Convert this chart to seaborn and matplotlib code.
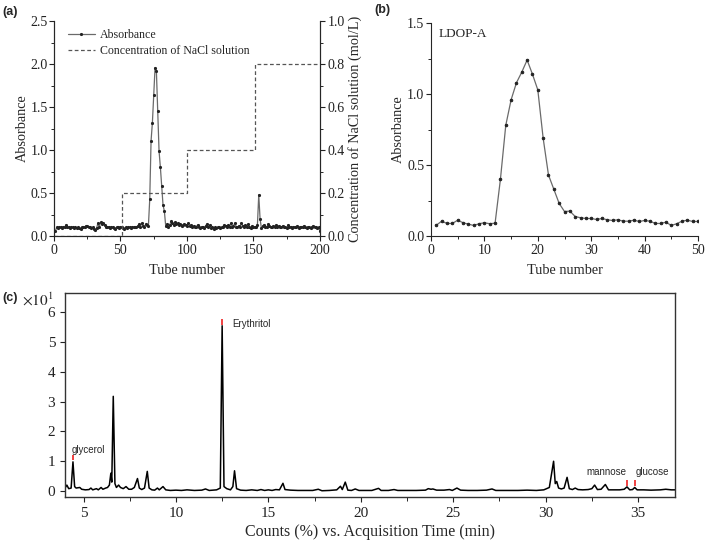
import matplotlib
matplotlib.use("Agg")
import matplotlib.pyplot as plt
from matplotlib.ticker import MultipleLocator
import numpy as np
import pandas as pd
import seaborn as sns

# ---------------- (a) DEAE column, absorbance per tube ----------------
tube_a = list(range(1, 201))
abs_a = [
    0.06, 0.10, 0.09, 0.11, 0.10, 0.09, 0.11, 0.10, 0.13, 0.11,
    0.10, 0.09, 0.10, 0.10, 0.09, 0.10, 0.09, 0.10, 0.09, 0.08,
    0.10, 0.11, 0.10, 0.12, 0.12, 0.11, 0.10, 0.09, 0.10, 0.08,
    0.07, 0.09, 0.15, 0.10, 0.16, 0.14, 0.15, 0.13, 0.10, 0.10,
    0.11, 0.09, 0.10, 0.10, 0.09, 0.08, 0.10, 0.11, 0.09, 0.10,
    0.10, 0.09, 0.08, 0.10, 0.09, 0.10, 0.10, 0.09, 0.11, 0.10,
    0.11, 0.10, 0.12, 0.14, 0.11, 0.15, 0.12, 0.10, 0.14, 0.13,
    0.12, 0.43, 1.11, 1.32, 1.64, 1.96, 1.92, 1.46, 0.99, 0.80,
    0.58, 0.36, 0.29, 0.12, 0.14, 0.11, 0.13, 0.17, 0.15, 0.13,
    0.16, 0.14, 0.15, 0.13, 0.14, 0.12, 0.13, 0.14, 0.13, 0.12,
    0.15, 0.12, 0.13, 0.11, 0.12, 0.10, 0.11, 0.13, 0.10, 0.09,
    0.11, 0.10, 0.09, 0.12, 0.14, 0.10, 0.13, 0.09, 0.10, 0.08,
    0.10, 0.09, 0.10, 0.10, 0.09, 0.10, 0.11, 0.13, 0.12, 0.10,
    0.13, 0.10, 0.15, 0.11, 0.12, 0.15, 0.11, 0.10, 0.12, 0.10,
    0.15, 0.12, 0.11, 0.13, 0.10, 0.14, 0.11, 0.09, 0.12, 0.10,
    0.11, 0.10, 0.13, 0.48, 0.20, 0.09, 0.12, 0.13, 0.11, 0.10,
    0.14, 0.12, 0.11, 0.10, 0.12, 0.11, 0.13, 0.10, 0.12, 0.11,
    0.10, 0.12, 0.11, 0.10, 0.09, 0.13, 0.10, 0.11, 0.09, 0.10,
    0.11, 0.10, 0.12, 0.09, 0.11, 0.10, 0.11, 0.12, 0.10, 0.09,
    0.11, 0.10, 0.09, 0.11, 0.12, 0.10, 0.11, 0.09, 0.10, 0.06,
]
nacl_tube = [0, 51, 100, 151, 200]
nacl_conc = [0.0, 0.2, 0.4, 0.8, 0.8]

# ---------------- (b) LDOP-A on gel column ----------------
tube_b = list(range(1, 51))
abs_b = [
    0.077, 0.105, 0.089, 0.089, 0.112, 0.094, 0.084, 0.075, 0.087, 0.094,
    0.087, 0.091, 0.40, 0.78, 0.96, 1.08, 1.155, 1.24, 1.14, 1.03,
    0.69, 0.43, 0.33, 0.23, 0.173, 0.176, 0.138, 0.129, 0.124, 0.124,
    0.117, 0.124, 0.115, 0.110, 0.115, 0.105, 0.105, 0.112, 0.103, 0.110,
    0.105, 0.089, 0.089, 0.098, 0.075, 0.087, 0.105, 0.112, 0.103, 0.103,
]

# ---------------- (c) GC-MS chromatogram (x10 counts %) ----------------
c_time = [
    4.0, 4.1, 4.2, 4.33, 4.43, 4.52, 4.6, 4.8, 4.9, 5.1, 5.3, 5.4, 5.5, 5.7, 5.8,
    5.95, 6.05, 6.2, 6.3, 6.4, 6.48, 6.53, 6.61, 6.7, 6.78, 6.9, 7.0, 7.15, 7.3,
    7.45, 7.6, 7.75, 7.92, 8.02, 8.15, 8.3, 8.45, 8.55, 8.7, 8.85, 9.0, 9.1, 9.3,
    9.45, 9.7, 10.0, 10.3, 10.6, 11.0, 11.4, 11.6, 11.8, 12.2, 12.4, 12.5, 12.6,
    12.75, 12.95, 13.08, 13.17, 13.28, 13.5, 13.8, 14.1, 14.4, 14.6, 14.8, 15.0,
    15.2, 15.4, 15.6, 15.79, 15.9, 16.2, 16.6, 17.0, 17.4, 17.7, 17.9, 18.3,
    18.7, 18.9, 19.0, 19.16, 19.3, 19.5, 19.7, 19.9, 20.3, 20.6, 20.96, 21.1,
    21.5, 21.8, 22.0, 22.5, 23.0, 23.5, 23.65, 23.8, 23.9, 24.1, 24.5, 24.8,
    24.95, 25.2, 25.4, 25.8, 26.3, 26.8, 27.1, 27.3, 27.8, 28.5, 29.0, 29.5,
    29.9, 30.2, 30.43, 30.52, 30.6, 30.7, 30.85, 31.0, 31.16, 31.28, 31.45,
    31.6, 31.75, 32.0, 32.3, 32.5, 32.65, 32.8, 33.0, 33.23, 33.4, 33.7, 34.0,
    34.25, 34.4, 34.55, 34.7, 34.82, 34.95, 35.3, 35.7, 36.2, 36.5, 36.8, 37.0,
]
c_count = [
    0.10, 0.20, 0.08, 0.10, 0.98, 0.15, 0.10, 0.12, 0.06, 0.04, 0.05, 0.10, 0.04, 0.08, 0.04,
    0.12, 0.06, 0.10, 0.12, 0.20, 0.60, 0.30, 3.18, 0.25, 0.12, 0.20, 0.12, 0.08, 0.15,
    0.06, 0.06, 0.12, 0.42, 0.10, 0.05, 0.10, 0.66, 0.10, 0.04, 0.03, 0.10, 0.04, 0.15,
    0.04, 0.02, 0.03, 0.02, 0.04, 0.02, 0.03, 0.07, 0.02, 0.04, 0.10, 5.55, 0.15,
    0.08, 0.04, 0.15, 0.68, 0.08, 0.03, 0.02, 0.04, 0.02, 0.05, 0.02, 0.04,
    0.02, 0.05, 0.04, 0.26, 0.05, 0.03, 0.02, 0.02, 0.02, 0.06, 0.01, 0.02,
    0.04, 0.16, 0.05, 0.30, 0.03, 0.02, 0.07, 0.02, 0.02, 0.02, 0.09, 0.02,
    0.02, 0.05, 0.02, 0.02, 0.02, 0.03, 0.08, 0.06, 0.07, 0.03, 0.03, 0.05,
    0.02, 0.10, 0.03, 0.02, 0.02, 0.03, 0.07, 0.02, 0.02, 0.02, 0.03, 0.02,
    0.04, 0.12, 1.00, 0.25, 0.32, 0.10, 0.07, 0.10, 0.46, 0.08, 0.05,
    0.10, 0.05, 0.04, 0.05, 0.08, 0.20, 0.05, 0.06, 0.22, 0.04, 0.04, 0.04,
    0.06, 0.14, 0.04, 0.05, 0.12, 0.04, 0.04, 0.03, 0.04, 0.06, 0.04, 0.04,
]
mark_names = ["glycerol", "Erythritol", "mannose", "glucose"]
mark_time = [4.43, 12.5, 34.42, 34.84]
mark_low = [1.03, 5.58, 0.18, 0.18]
mark_high = [1.20, 5.78, 0.38, 0.36]

sns.set_style("ticks")
plt.rcParams["font.family"] = ["Liberation Serif", "DejaVu Serif"]
plt.rcParams["mathtext.fontset"] = "stix"
plt.rcParams["xtick.direction"] = "out"
plt.rcParams["ytick.direction"] = "out"

fig = plt.figure(figsize=(7.09, 5.44), dpi=100)
ax_a = fig.add_axes([0.0762, 0.566, 0.375, 0.3952])
ax_b = fig.add_axes([0.6079, 0.566, 0.3766, 0.3915])
ax_c = fig.add_axes([0.0917, 0.0864, 0.8604, 0.375])

TICK = 10
LAB = 10.3
GREY = "#6a6a6a"

# ---- (a) ----
sns.lineplot(x=tube_a, y=abs_a, ax=ax_a, color=GREY, linewidth=0.9,
             marker="o", markersize=1.5, markerfacecolor="#222222",
             markeredgecolor="#222222", label="Absorbance")
ax_a2 = ax_a.twinx()
sns.lineplot(x=nacl_tube, y=nacl_conc, ax=ax_a2, color="#555555", linewidth=0.9,
             linestyle=(0, (3, 2)), drawstyle="steps-post",
             label="Concentration of NaCl solution")
ax_a.set_xlim(0, 200)
ax_a.set_ylim(0, 2.5)
ax_a2.set_ylim(0, 1.0)
ax_a.xaxis.set_major_locator(MultipleLocator(50))
ax_a.xaxis.set_minor_locator(MultipleLocator(25))
ax_a.yaxis.set_major_locator(MultipleLocator(0.5))
ax_a.yaxis.set_minor_locator(MultipleLocator(0.25))
ax_a2.yaxis.set_major_locator(MultipleLocator(0.2))
ax_a2.yaxis.set_minor_locator(MultipleLocator(0.1))
ax_a.set_xlabel("Tube number", fontsize=LAB, labelpad=5)
ax_a.set_ylabel("Absorbance", fontsize=LAB, labelpad=1)
ax_a2.set_ylabel("Concentration of NaCl solution (mol/L)", fontsize=LAB, labelpad=2)
for a in (ax_a, ax_a2):
    a.spines["top"].set_visible(False)
    a.tick_params(labelsize=TICK, length=3.5, width=0.8, colors="#222222", pad=2)
    a.tick_params(which="minor", length=2, width=0.7)
    for s in a.spines.values():
        s.set_linewidth(0.8)
ax_a.tick_params(axis="y", pad=1.2)
ax_a.set_yticklabels([f"{v:.1f}" for v in ax_a.get_yticks()])
ax_a2.set_yticklabels([f"{v:.1f}" for v in ax_a2.get_yticks()])
h1 = ax_a.get_lines()[0]
h2 = ax_a2.get_lines()[0]
ax_a2.get_legend().remove()
ax_a.legend([h1, h2], ["Absorbance", "Concentration of NaCl solution"],
            loc="upper left", frameon=False, fontsize=8.6, handlelength=2.3,
            handletextpad=0.4, labelspacing=0.3, borderaxespad=0.3,
            bbox_to_anchor=(0.02, 1.0))

# ---- (b) ----
sns.lineplot(x=tube_b, y=abs_b, ax=ax_b, color=GREY, linewidth=0.9,
             marker="o", markersize=1.8, markerfacecolor="#222222",
             markeredgecolor="#222222")
ax_b.set_xlim(0, 50)
ax_b.set_ylim(0, 1.5)
ax_b.xaxis.set_major_locator(MultipleLocator(10))
ax_b.xaxis.set_minor_locator(MultipleLocator(5))
ax_b.yaxis.set_major_locator(MultipleLocator(0.5))
ax_b.yaxis.set_minor_locator(MultipleLocator(0.25))
ax_b.set_yticklabels([f"{v:.1f}" for v in ax_b.get_yticks()])
ax_b.set_xlabel("Tube number", fontsize=LAB, labelpad=5)
ax_b.set_ylabel("Absorbance", fontsize=LAB, labelpad=2)
sns.despine(ax=ax_b)
ax_b.tick_params(labelsize=TICK, length=3.5, width=0.8, colors="#222222", pad=2)
ax_b.tick_params(axis="y", pad=1.2)
ax_b.tick_params(which="minor", length=2, width=0.7)
for s in ax_b.spines.values():
    s.set_linewidth(0.8)
ax_b.text(0.03, 0.95, "LDOP-A", transform=ax_b.transAxes, fontsize=9.5,
          ha="left", va="center")

# ---- (c) ----
sns.lineplot(x=c_time, y=c_count, ax=ax_c, color="black", linewidth=1.1)
ax_c.vlines(mark_time, mark_low, mark_high, colors="#f04040", linewidth=1.4)
ax_c.set_xlim(4, 37)
ax_c.set_ylim(-0.2, 6.65)
ax_c.xaxis.set_major_locator(MultipleLocator(5))
ax_c.xaxis.set_minor_locator(MultipleLocator(2.5))
ax_c.yaxis.set_major_locator(MultipleLocator(1))
ax_c.set_xlabel("Counts (%) vs. Acquisition Time (min)", fontsize=11.5, labelpad=3)
ax_c.tick_params(labelsize=11, length=3.5, width=0.8, colors="#222222")
ax_c.tick_params(which="minor", length=3, width=0.7)
for s in ax_c.spines.values():
    s.set_linewidth(1.0)
    s.set_color("#333333")
sans = ["Liberation Sans", "DejaVu Sans"]
ax_c.text(4.35, 1.37, mark_names[0], family=sans, fontsize=7, ha="left", va="center")
ax_c.text(13.05, 5.62, mark_names[1], family=sans, fontsize=7, ha="left", va="center")
ax_c.text(33.3, 0.64, mark_names[2], family=sans, fontsize=7, ha="center", va="center")
ax_c.text(35.76, 0.64, mark_names[3], family=sans, fontsize=7, ha="center", va="center")
fig.text(0.031, 0.448, r"$\times10^{1}$", fontsize=11, ha="left", va="center")

# panel letters
for x, y, t in [(0.003, 0.978, "(a)"), (0.528, 0.982, "(b)"), (0.003, 0.452, "(c)")]:
    fig.text(x, y, t, family=sans, fontsize=9, fontweight="bold", ha="left", va="center")

fig.savefig("out.png", dpi=100)
